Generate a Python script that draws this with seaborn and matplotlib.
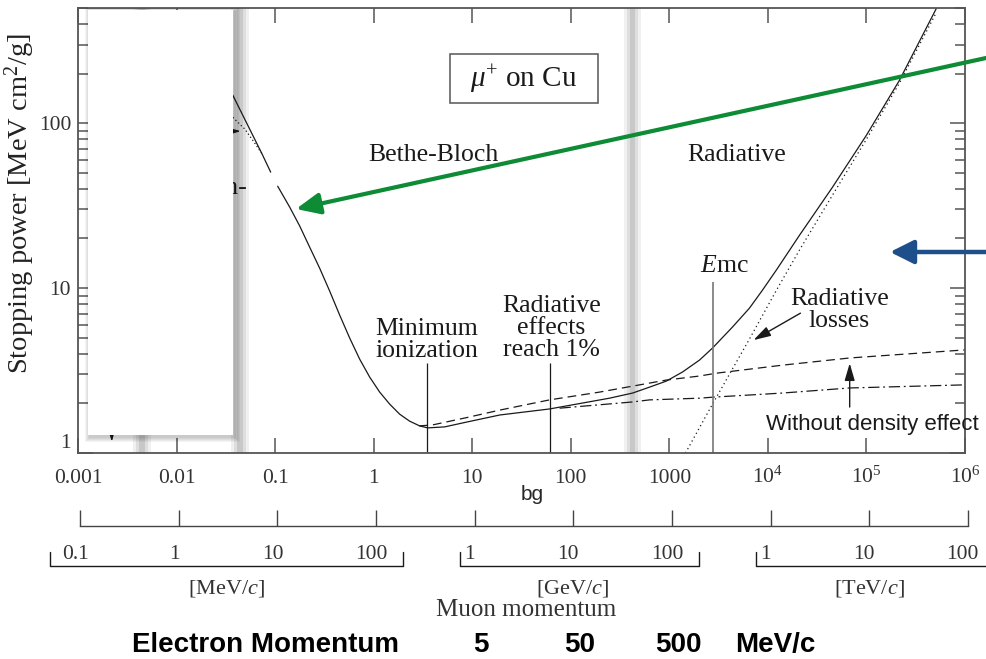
import numpy as np
import pandas as pd
import seaborn as sns
from matplotlib import pyplot as plt
from matplotlib import transforms
from matplotlib.patches import Rectangle, FancyArrowPatch
from matplotlib.ticker import LogLocator, NullLocator, NullFormatter

# ---- values: stopping power [MeV cm^2/g] vs beta*gamma ----
# total (solid), short piece left of the small gap near bg = 0.1
total_bg_a = [0.0372, 0.0579, 0.0731, 0.0902]
total_a = [148, 87.0, 65.8, 50.5]
# total (solid), rest of the curve
total_bg_b = [0.1062, 0.1406, 0.1777, 0.2244, 0.2833, 0.358, 0.452, 0.571, 0.721,
              0.910, 1.151, 1.453, 1.835, 2.317, 2.928, 3.53, 5.25, 8.77, 19.0, 61,
              132, 247, 424, 631, 933, 1361, 2023, 2742, 4365, 6500, 8810, 12220,
              20900, 45200, 1.0e5, 2.16e5, 5.13e5]
total_b = [41.5, 31.0, 23.8, 17.7, 13.2, 9.59, 6.86, 4.98, 3.71,
           2.89, 2.34, 1.98, 1.72, 1.56, 1.46, 1.42, 1.44, 1.54, 1.70, 1.85,
           2.01, 2.15, 2.31, 2.51, 2.73, 3.10, 3.66, 4.33, 5.80, 7.56, 9.72, 12.9,
           20.9, 40.9, 84.6, 182, 498]
# without density effect (dashed)
nodens_bg = [2.9, 3.96, 8.8, 19, 61, 195, 933, 2023, 3020, 14060, 67600, 1.0e6]
nodens = [1.46, 1.48, 1.64, 1.82, 2.10, 2.34, 2.77, 2.93, 3.05, 3.41, 3.77, 4.22]
# ionization only, with density effect (dash-dot)
ion_bg = [77, 424, 631, 2023, 2742, 14060, 67600, 1.0e6]
ion = [1.87, 2.04, 2.10, 2.15, 2.18, 2.31, 2.48, 2.59]
# radiative losses (dotted)
rad_bg = [1459, 2742, 6500, 12220, 20900, 45200, 1.0e5, 2.16e5, 5.13e5]
rad = [1.0, 1.98, 4.91, 9.72, 17.0, 36.6, 80.0, 175, 471]
# mu- branch peeking out next to the white box (dotted)
mum_bg = [0.0372, 0.0494, 0.0622, 0.0731]
mum = [108.6, 92, 75.7, 65.8]

# vertical markers: minimum ionization, radiative effects 1%, E_muc
marker_bg = [3.45, 61, 2806]
marker_top = [3.51, 3.51, 10.9]

# grey region boundaries (beta*gamma)
band_centers = [0.00444, 0.0438, 423]

xtick_vals = [1e-3, 1e-2, 1e-1, 1, 10, 100, 1000, 1e4, 1e5, 1e6]
xtick_labels = ['0.001', '0.01', '0.1', '1', '10', '100', '1000',
                r'$\mathregular{10^4}$', r'$\mathregular{10^5}$', r'$\mathregular{10^6}$']

# muon momentum scales
MUON_MASS = 105.66     # MeV/c^2
ELECTRON_MASS = 0.511  # MeV/c^2
muon_units = ['[MeV/$c$]', '[GeV/$c$]', '[TeV/$c$]']
muon_unit_mev = [1.0, 1e3, 1e6]
muon_ticks = [[0.1, 1, 10, 100], [1, 10, 100], [1, 10, 100]]
muon_tick_labels = [['0.1', '1', '10', '100'], ['1', '10', '100'], ['1', '10', '100']]
bracket_lo = [0.055, 0.8, 0.8]
bracket_hi = [210, 210, 200]
unit_label_at = [3.4, 11, 11.3]
electron_momenta = [5, 50, 500]  # MeV/c

curves = pd.concat([
    pd.DataFrame({'bg': total_bg_a, 'power': total_a, 'curve': 'total_a'}),
    pd.DataFrame({'bg': total_bg_b, 'power': total_b, 'curve': 'total_b'}),
    pd.DataFrame({'bg': nodens_bg, 'power': nodens, 'curve': 'no_density'}),
    pd.DataFrame({'bg': ion_bg, 'power': ion, 'curve': 'ionization'}),
    pd.DataFrame({'bg': rad_bg, 'power': rad, 'curve': 'radiative'}),
    pd.DataFrame({'bg': mum_bg, 'power': mum, 'curve': 'mu_minus'}),
], ignore_index=True)

sns.set_style("ticks")
plt.rcParams['font.family'] = ['Liberation Serif', 'DejaVu Serif']
plt.rcParams['mathtext.fontset'] = 'custom'
plt.rcParams['mathtext.rm'] = 'Liberation Serif'
plt.rcParams['mathtext.it'] = 'Liberation Serif:italic'
plt.rcParams['mathtext.bf'] = 'Liberation Serif:bold'

FRAME = '#555555'
INK = '#1a1a1a'
SANS = ['Liberation Sans', 'DejaVu Sans']
W, H = 986, 659


def fx(px):
    return px / W


def fy(py):
    return 1 - py / H


fig = plt.figure(figsize=(W / 100, H / 100), dpi=100)
ax = fig.add_axes([fx(78), fy(453), (965 - 78) / W, (453 - 8) / H])
ax.set_xscale('log')
ax.set_yscale('log')

# soft grey region boundaries
for c in band_centers:
    for half, col in [(0.09, '#f0f0f0'), (0.06, '#dedede'), (0.03, '#c8c8c8')]:
        ax.axvspan(c * 10 ** -half, c * 10 ** half, color=col, lw=0, zorder=0.5)

line_styles = {
    'total_a': '-',
    'total_b': '-',
    'no_density': (0, (7, 4)),
    'ionization': (0, (9, 3, 1.5, 3)),
    'radiative': (0, (1, 2.5)),
    'mu_minus': (0, (1, 2)),
}
for name, ls in line_styles.items():
    sns.lineplot(data=curves[curves['curve'] == name], x='bg', y='power', ax=ax,
                 estimator=None, sort=False, color=INK, linestyle=ls,
                 linewidth=0.9, zorder=2)

ax.vlines(marker_bg[:2], 1, marker_top[:2], color=INK, lw=0.9, zorder=2)
ax.vlines(marker_bg[2:], 1, marker_top[2:], color='#777777', lw=1.2, zorder=2)

# labels inside the plot
txt = dict(fontsize=18.5, color=INK, ha='center', va='center')
ax.text(4.06, 64, 'Bethe-Bloch', **txt)
ax.text(4790, 64, 'Radiative', **txt)
ax.text(3.45, 4.87, 'Minimum\nionization', linespacing=1.0, **txt)
ax.text(63.9, 5.72, 'Radiative\neffects\nreach 1%', linespacing=1.0, **txt)
ax.text(53200, 7.41, 'Radiative\nlosses', linespacing=1.0, **txt)
ax.text(3630, 13.6, r'$E\mathrm{mc}$', **txt)
ax.text(33.3, 185, r'$\mu^{+}$ on Cu', fontsize=21, color=INK, ha='center', va='center')
ax.add_patch(Rectangle(((450 - 78) / 887, (453 - 103) / 445), 148 / 887, 49 / 445,
                       transform=ax.transAxes, fill=False, ec='#555555', lw=1.1))
ax.text(9460, 1.48, 'Without density effect', family=SANS, fontsize=16,
        color=INK, ha='left', va='center')
ax.text(0.0527, 40.4, 'Anderson-', fontsize=18.5, color=INK, ha='right',
        va='center', zorder=2.5)

arrow_kw = dict(arrowstyle='-|>,head_length=0.75,head_width=0.22', color=INK,
                lw=1.0, shrinkA=0, shrinkB=0, mutation_scale=14)
ax.annotate('', xy=(7150, 4.84), xytext=(21400, 7.05), arrowprops=arrow_kw)
ax.annotate('', xy=(67600, 3.5), xytext=(67600, 1.9), arrowprops=arrow_kw)
ax.annotate('', xy=(0.0448, 89.5), xytext=(0.02, 89.5), arrowprops=arrow_kw, zorder=2.5)
ax.annotate('', xy=(0.0022, 1.17), xytext=(0.0022, 2.1), arrowprops=arrow_kw, zorder=2.5)

# white box pasted over the low-energy part, with a soft shadow
x0, x1 = (88 - 78) / 887, (233 - 78) / 887
y0, y1 = (453 - 435) / 445, (453 - 10) / 445
for k in range(1, 6):
    ax.add_patch(Rectangle((x0 + (2 - k) / 887, y0 - (2 + k) / 445),
                           x1 - x0 + 2 * k / 887, y1 - y0 + 2 * k / 445,
                           transform=ax.transAxes, color='black', alpha=0.045,
                           lw=0, zorder=3))
ax.add_patch(Rectangle((x0, y0), x1 - x0, y1 - y0, transform=ax.transAxes,
                       color='white', lw=0, zorder=3.2))

# axes formatting
ax.set_xlim(1e-3, 1e6)
ax.set_ylim(1, 500)
ax.set_xticks(xtick_vals, labels=xtick_labels)
ax.xaxis.set_minor_locator(NullLocator())
ax.set_yticks([1, 10, 100], labels=['1', '10', '100'])
ax.yaxis.set_minor_locator(LogLocator(base=10, subs=np.arange(2, 10)))
ax.yaxis.set_minor_formatter(NullFormatter())
ax.tick_params(which='both', direction='in', top=True, right=True,
               color=FRAME, width=1.1, labelcolor='#333333')
ax.tick_params(which='major', length=10.5)
ax.tick_params(which='minor', length=7)
ax.tick_params(axis='x', labelsize=15.5, pad=21.5)
ax.tick_params(axis='y', labelsize=15.5, pad=5)
for lab in ax.get_xticklabels():
    lab.set_verticalalignment('baseline')
ax.get_yticklabels()[0].set_verticalalignment('bottom')
for s in ax.spines.values():
    s.set_color(FRAME)
    s.set_linewidth(1.3)
ax.set_xlabel('')
ax.set_ylabel(r'Stopping power [MeV cm$^2$/g]', fontsize=20.5, color='#222222')
ax.yaxis.set_label_coords(-0.046, 0.56)

fig.text(fx(532), fy(495), 'bg', family=SANS, fontsize=15, ha='center', va='center')

# electron momentum axis line
ax2 = fig.add_axes([fx(80), fy(526), (968 - 80) / W, 0.02])
ax2.set_xscale('log')
ax2.set_xlim(1e-3, 1e6)
ax2.set_xticks(xtick_vals)
ax2.set_xticklabels([])
ax2.xaxis.set_minor_locator(NullLocator())
ax2.set_yticks([])
for side in ['top', 'left', 'right']:
    ax2.spines[side].set_visible(False)
ax2.spines['bottom'].set_color('#444444')
ax2.spines['bottom'].set_linewidth(1.0)
ax2.tick_params(axis='x', direction='in', length=11.5, width=1.0, color='#444444')
ax2.patch.set_alpha(0)

# muon momentum brackets
ax3 = fig.add_axes([fx(78), fy(566), (965 - 78) / W, 14 / H])
ax3.set_xscale('log')
ax3.set_xlim(1e-3, 1e6)
ax3.set_ylim(0, 1)
ax3.axis('off')
for unit, scale, ticks, labels, lo, hi, at in zip(muon_units, muon_unit_mev, muon_ticks,
                                                   muon_tick_labels, bracket_lo, bracket_hi,
                                                   unit_label_at):
    b_lo = lo * scale / MUON_MASS
    b_hi = hi * scale / MUON_MASS
    ax3.plot([b_lo, b_lo, b_hi, b_hi], [1, 0, 0, 1], color=INK, lw=1.0, clip_on=False)
    for t, lab in zip(ticks, labels):
        ax3.text(t * scale / MUON_MASS, 0.5, lab, fontsize=15.5, color='#333333',
                 ha='center', va='baseline')
    ax3.text(at * scale / MUON_MASS, -1.6, unit, fontsize=16, color='#333333',
             ha='center', va='center')
fig.text(fx(526), fy(610), 'Muon momentum', fontsize=18, color='#333333',
         ha='center', va='center')

# electron momentum row
bold = dict(family=SANS, fontsize=20, fontweight='bold', color='black', va='center')
fig.text(fx(266), fy(645), 'Electron Momentum', ha='center', **bold)
etrans = transforms.blended_transform_factory(ax2.transData, fig.transFigure) + \
    transforms.ScaledTranslation(0.07, 0, fig.dpi_scale_trans)
for p in electron_momenta:
    fig.text(p / ELECTRON_MASS, fy(645), str(p), transform=etrans, ha='center', **bold)
fig.text(fx(775), fy(645), 'MeV/c', ha='center', **bold)

# highlight arrows
fig.add_artist(FancyArrowPatch(posA=(fx(986), fy(58)), posB=(fx(296), fy(209)),
                               transform=fig.transFigure,
                               arrowstyle='-|>,head_length=0.9,head_width=0.4',
                               mutation_scale=16, color='#0d8b35', lw=3,
                               shrinkA=0, shrinkB=0, zorder=10))
fig.add_artist(FancyArrowPatch(posA=(fx(986), fy(252)), posB=(fx(890), fy(252)),
                               transform=fig.transFigure,
                               arrowstyle='-|>,head_length=0.9,head_width=0.45',
                               mutation_scale=16, color='#1f4f8a', lw=3.2,
                               shrinkA=0, shrinkB=0, zorder=10))

fig.savefig('out.png', dpi=100)
